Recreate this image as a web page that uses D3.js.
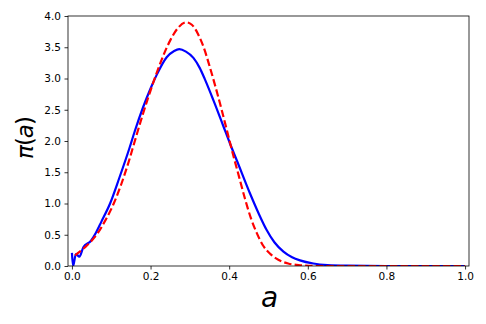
<!DOCTYPE html>
<html>
<head>
<meta charset="utf-8">
<script src="https://cdn.jsdelivr.net/npm/d3@7"></script>
<style>
  body { margin: 0; background: #fff; }
  svg { display: block; font-family: "DejaVu Sans", sans-serif; }
</style>
</head>
<body>
<svg id="chart"></svg>
<script>
// empirical density (blue)
var aBlue  = [0.000, 0.003, 0.010, 0.019, 0.029, 0.048, 0.060, 0.075, 0.097, 0.120, 0.146, 0.160, 0.181, 0.200, 0.215, 0.241, 0.260, 0.273, 0.290, 0.309, 0.325, 0.338, 0.360, 0.385, 0.402, 0.420, 0.453, 0.475, 0.495, 0.515, 0.538, 0.560, 0.580, 0.614, 0.650, 0.700, 0.800, 1.000];
var piBlue = [0.21, 0.00, 0.19, 0.15, 0.30, 0.40, 0.52, 0.71, 1.00, 1.40, 1.88, 2.16, 2.54, 2.84, 3.05, 3.34, 3.44, 3.47, 3.43, 3.33, 3.17, 2.99, 2.65, 2.24, 1.96, 1.68, 1.16, 0.84, 0.58, 0.38, 0.23, 0.14, 0.09, 0.04, 0.015, 0.005, 0.0, 0.0];

// fitted density (red dashed)
var aRed  = [0.008, 0.020, 0.035, 0.048, 0.065, 0.085, 0.105, 0.125, 0.145, 0.160, 0.180, 0.198, 0.215, 0.232, 0.250, 0.270, 0.290, 0.305, 0.320, 0.335, 0.350, 0.365, 0.380, 0.395, 0.410, 0.425, 0.440, 0.455, 0.470, 0.487, 0.505, 0.525, 0.550, 0.580, 0.620, 1.000];
var piRed = [0.17, 0.23, 0.31, 0.39, 0.52, 0.73, 0.98, 1.30, 1.68, 2.00, 2.42, 2.77, 3.08, 3.36, 3.61, 3.81, 3.90, 3.86, 3.72, 3.50, 3.20, 2.87, 2.52, 2.15, 1.78, 1.43, 1.08, 0.77, 0.53, 0.32, 0.19, 0.10, 0.04, 0.012, 0.0, 0.0];

var xTicks = [0, 0.2, 0.4, 0.6, 0.8, 1.0];
var yTicks = [0, 0.5, 1.0, 1.5, 2.0, 2.5, 3.0, 3.5, 4.0];

var width = 486, height = 324;
var mLeft = 68, mRight = 469, mTop = 16, mBottom = 266;

var svg = d3.select('#chart').attr('width', width).attr('height', height);

var x = d3.scaleLinear().domain([-0.01, 1.01]).range([mLeft, mRight]);
var y = d3.scaleLinear().domain([0, 4]).range([mBottom, mTop]);

svg.append('clipPath').attr('id', 'clip')
  .append('rect')
  .attr('x', mLeft).attr('y', mTop)
  .attr('width', mRight - mLeft).attr('height', mBottom - mTop);

var line = d3.line()
  .x(d => x(d[0]))
  .y(d => y(d[1]))
  .curve(d3.curveMonotoneX);

var blueData = aBlue.map((a, i) => [a, piBlue[i]]);
var redData = aRed.map((a, i) => [a, piRed[i]]);

var g = svg.append('g').attr('clip-path', 'url(#clip)');

g.append('path')
  .datum(blueData)
  .attr('d', line)
  .attr('fill', 'none')
  .attr('stroke', '#0000ff')
  .attr('stroke-width', 2.2)
  .attr('stroke-linejoin', 'round');

g.append('path')
  .datum(redData)
  .attr('d', line)
  .attr('fill', 'none')
  .attr('stroke', '#ff0000')
  .attr('stroke-width', 2.2)
  .attr('stroke-dasharray', '7.4,3.2');

// axes
var xAxis = d3.axisBottom(x).tickValues(xTicks).tickFormat(d3.format('.1f')).tickSize(3.5).tickPadding(3.5);
var yAxis = d3.axisLeft(y).tickValues(yTicks).tickFormat(d3.format('.1f')).tickSize(3.5).tickPadding(3.5);

svg.append('g')
  .attr('transform', 'translate(0,' + mBottom + ')')
  .call(xAxis)
  .call(s => s.select('.domain').remove());

svg.append('g')
  .attr('transform', 'translate(' + mLeft + ',0)')
  .call(yAxis)
  .call(s => s.select('.domain').remove());

svg.selectAll('.tick text')
  .attr('font-family', '"DejaVu Sans", sans-serif')
  .attr('font-size', 10.5)
  .attr('fill', '#000');
svg.selectAll('.tick line').attr('stroke', '#000').attr('stroke-width', 0.8);

// frame
svg.append('rect')
  .attr('x', mLeft).attr('y', mTop)
  .attr('width', mRight - mLeft).attr('height', mBottom - mTop)
  .attr('fill', 'none')
  .attr('stroke', '#000')
  .attr('stroke-width', 0.8);

// axis labels
svg.append('text')
  .attr('x', (mLeft + mRight) / 2 + 1)
  .attr('y', 307)
  .attr('text-anchor', 'middle')
  .attr('font-family', '"DejaVu Sans", sans-serif')
  .attr('font-style', 'italic')
  .attr('font-size', 28)
  .text('a');

var yl = svg.append('text')
  .attr('transform', 'translate(33,138) rotate(-90)')
  .attr('text-anchor', 'middle')
  .attr('font-family', '"DejaVu Sans", sans-serif')
  .attr('font-size', 23)
  .attr('letter-spacing', -1);
yl.append('tspan').attr('font-style', 'italic').text('π');
yl.append('tspan').text('(');
yl.append('tspan').attr('font-style', 'italic').text('a');
yl.append('tspan').text(')');
</script>
</body>
</html>
